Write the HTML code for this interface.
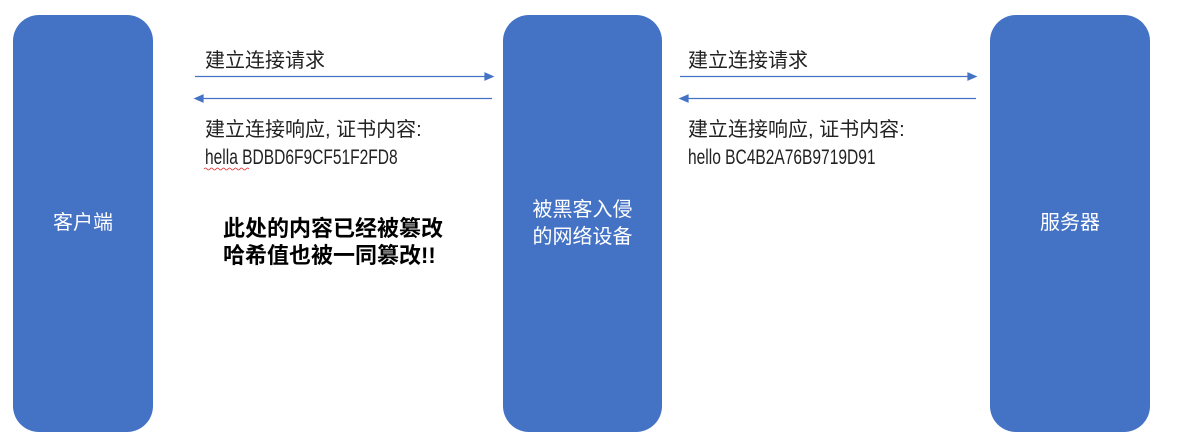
<!DOCTYPE html>
<html><head><meta charset="utf-8"><style>
body{margin:0;width:1192px;height:441px;background:#fff;position:relative;overflow:hidden;font-family:"Liberation Sans","Noto Sans CJK SC",sans-serif;}
.b{position:absolute;background:#4472C4;border-radius:26px;color:#fff;font-size:20px;display:flex;align-items:center;justify-content:center;text-align:center;line-height:27px;}
.t{position:absolute;font-size:20px;color:#222;white-space:nowrap;line-height:27px;}
.l{display:inline-block;transform:scaleX(0.74);transform-origin:left center;font-size:21px;}
</style></head><body>
<div class="b" style="left:13px;top:15px;width:140px;height:417px;">客户端</div>
<div class="b" style="left:503px;top:15px;width:159px;height:417px;">被黑客入侵<br>的网络设备</div>
<div class="b" style="left:990px;top:15px;width:160px;height:417px;">服务器</div>
<svg style="position:absolute;left:0;top:0" width="1192" height="441">
<g stroke="#4472C4" stroke-width="1.2" fill="#4472C4">
<line x1="195" y1="76.5" x2="486" y2="76.5"/><polygon points="493,76.5 485,73 485,80"/>
<line x1="202" y1="98.5" x2="492" y2="98.5"/><polygon points="195,98.5 203,95 203,102"/>
<line x1="680" y1="76.5" x2="969" y2="76.5"/><polygon points="976,76.5 968,73 968,80"/>
<line x1="687" y1="98.5" x2="976" y2="98.5"/><polygon points="680,98.5 688,95 688,102"/>
</g>
<path d="M204 169 q1.5 -2 3 0 t3 0 t3 0 t3 0 t3 0 t3 0 t3 0 t3 0 t3 0 t3 0 t3 0 t3 0 t3 0 t3 0 t3 0" stroke="#d33" stroke-width="0.8" fill="none"/>
</svg>
<div class="t" style="left:205px;top:48px;">建立连接请求</div>
<div class="t" style="left:205px;top:117px;">建立连接响应, 证书内容:<br><span class="l">hella BDBD6F9CF51F2FD8</span></div>
<div class="t" style="left:688px;top:48px;">建立连接请求</div>
<div class="t" style="left:688px;top:117px;">建立连接响应, 证书内容:<br><span class="l">hello BC4B2A76B9719D91</span></div>
<div class="t" style="left:223px;top:215px;font-size:22px;font-weight:bold;color:#000;line-height:27px;">此处的内容已经被篡改<br>哈希值也被一同篡改!!</div>
</body></html>
